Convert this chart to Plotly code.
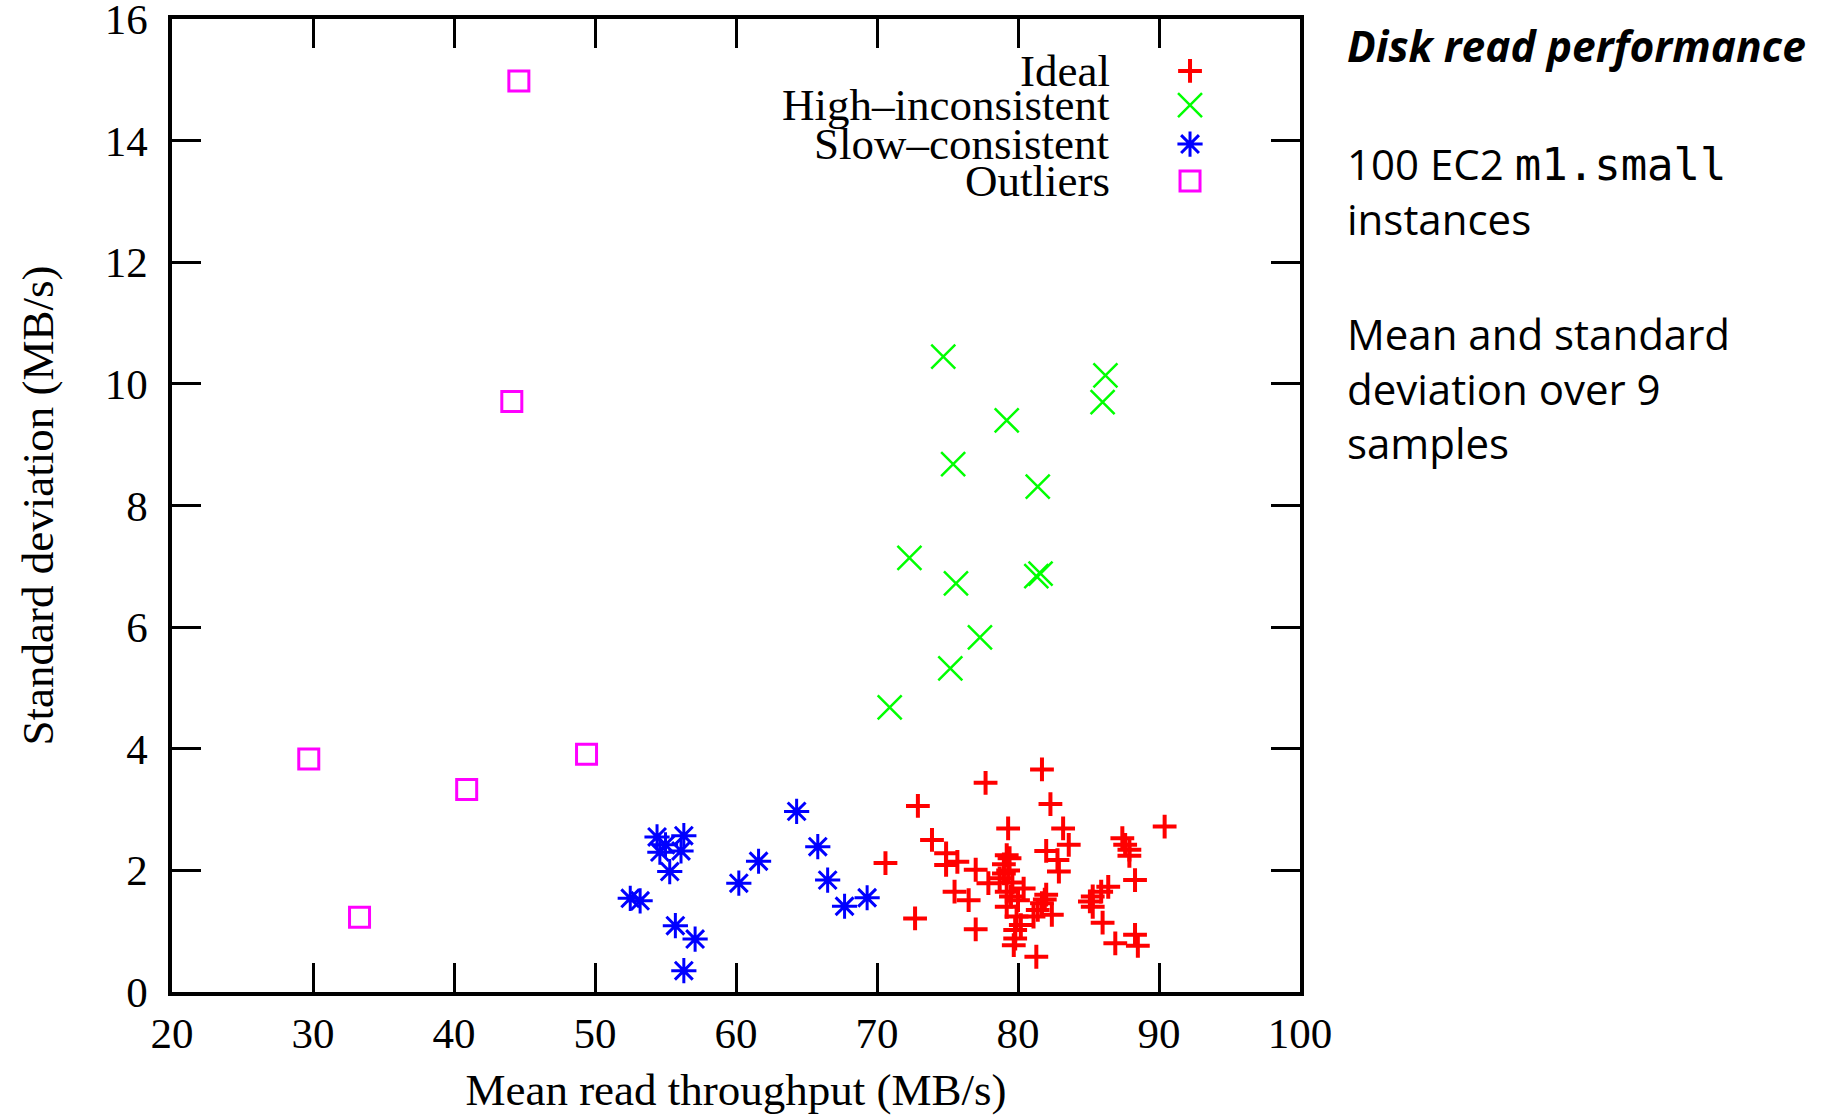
import plotly.graph_objects as go

# ---- data ----
ideal_x = [81.7, 77.7, 82.3, 72.9, 90.4, 79.3, 83.2, 73.9, 87.4, 83.6, 87.6, 82.0, 74.9, 79.2, 87.9,
           87.9, 70.6, 75.7, 74.9, 79.4, 79.0, 77.0, 82.8, 82.9, 78.7, 77.9, 88.3, 79.0, 75.5, 76.5,
           79.2, 79.5, 80.0, 79.2, 82.0, 81.7, 81.4, 82.4, 81.1, 79.9, 72.7, 86.4, 85.9, 85.3, 85.1,
           85.3, 86.0, 77.0, 79.8, 79.8, 79.7, 81.3, 86.9, 88.3, 88.5, 80.2, 79.6, 81.9, 80.4, 79.3]
ideal_y = [3.66, 3.44, 3.09, 3.06, 2.72, 2.69, 2.69, 2.50, 2.53, 2.42, 2.42, 2.32, 2.28, 2.25, 2.34,
           2.24, 2.12, 2.14, 2.09, 2.20, 2.10, 2.01, 2.17, 1.98, 1.87, 1.79, 1.84, 1.95, 1.65, 1.51,
           1.65, 1.57, 1.51, 1.40, 1.60, 1.46, 1.35, 1.27, 1.24, 1.24, 1.21, 1.73, 1.65, 1.57, 1.49,
           1.40, 1.14, 1.03, 1.02, 0.88, 0.77, 0.58, 0.80, 0.94, 0.76, 1.10, 1.80, 1.52, 1.70, 2.00]

high_x = [74.7, 86.2, 86.0, 79.2, 75.4, 81.4, 72.3, 75.6, 81.3, 81.6, 77.3, 75.2, 70.9]
high_y = [10.45, 10.14, 9.70, 9.40, 8.68, 8.31, 7.14, 6.72, 6.84, 6.88, 5.83, 5.32, 4.68]

slow_x = [54.4, 56.3, 54.6, 56.1, 55.0, 55.3, 52.5, 53.2, 55.7, 57.1, 56.3, 60.2, 61.6, 64.3, 65.8, 66.5, 67.7, 69.3]
slow_y = [2.55, 2.57, 2.30, 2.32, 2.42, 1.98, 1.54, 1.50, 1.09, 0.87, 0.35, 1.79, 2.15, 2.97, 2.39, 1.84, 1.41, 1.55]

out_x = [44.6, 44.1, 29.7, 40.9, 49.4, 33.3]
out_y = [14.98, 9.71, 3.83, 3.33, 3.91, 1.23]

series_names = ["Ideal", "High–inconsistent", "Slow–consistent", "Outliers"]
x_ticks = [20, 30, 40, 50, 60, 70, 80, 90, 100]
y_ticks = [0, 2, 4, 6, 8, 10, 12, 14, 16]

# ---- styles ----
RED, GREEN, BLUE, MAGENTA = "#ff0000", "#00ff00", "#0000ff", "#ff00ff"
styles = [
    dict(symbol="cross-thin-open", size=17, line=dict(color=RED, width=4), color=RED),
    dict(symbol="x-thin-open", size=24, line=dict(color=GREEN, width=2.5), color=GREEN),
    dict(symbol="asterisk-open", size=21, line=dict(color=BLUE, width=3), color=BLUE),
    dict(symbol="square-open", size=20, line=dict(color=MAGENTA, width=3), color=MAGENTA),
]
data = [(ideal_x, ideal_y), (high_x, high_y), (slow_x, slow_y), (out_x, out_y)]

fig = go.Figure()
for (xs, ys), st, nm in zip(data, styles, series_names):
    fig.add_trace(go.Scatter(x=xs, y=ys, mode="markers", marker=st, name=nm,
                             showlegend=False, cliponaxis=False))

# ---- custom legend (text left, symbol right, like gnuplot) ----
leg_y = [0.9466, 0.9116, 0.8715, 0.8335]
for st, nm, ly in zip(styles, series_names, leg_y):
    fig.add_trace(go.Scatter(x=[0.9025], y=[ly], mode="markers", marker=st,
                             xaxis="x2", yaxis="y2", showlegend=False, hoverinfo="skip"))
    fig.add_annotation(x=0.833, y=ly, xref="paper", yref="paper", text=nm,
                       showarrow=False, xanchor="right", yanchor="middle",
                       font=dict(family="Liberation Serif", size=45, color="black"))

serif = "Liberation Serif"
fig.update_layout(
    width=1825, height=1115,
    margin=dict(l=172, r=525, t=19, b=123),
    paper_bgcolor="white", plot_bgcolor="white",
    font=dict(family=serif, size=40, color="black"),
    xaxis=dict(range=[20, 100], tickvals=x_ticks, ticktext=[str(v) for v in x_ticks],
               showgrid=False, zeroline=False, showline=True, linewidth=4, linecolor="black",
               mirror="ticks", ticks="inside", ticklen=29, tickwidth=3, tickcolor="black",
               tickfont=dict(family=serif, size=43), ticklabelstandoff=0,
               ticklabeloverflow="allow", automargin=False,
               title=dict(text="Mean read throughput (MB/s)", font=dict(family=serif, size=45),
                          standoff=30)),
    yaxis=dict(range=[0, 16], tickvals=y_ticks, ticktext=[str(v) for v in y_ticks],
               showgrid=False, zeroline=False, showline=True, linewidth=3.5, linecolor="black",
               mirror="ticks", ticks="inside", ticklen=29, tickwidth=3, tickcolor="black",
               tickfont=dict(family=serif, size=43), ticklabelstandoff=12,
               ticklabeloverflow="allow", automargin=False,
               title=dict(text="Standard deviation (MB/s)", font=dict(family=serif, size=45),
                          standoff=38)),
    xaxis2=dict(range=[0, 1], overlaying="x", visible=False, fixedrange=True),
    yaxis2=dict(range=[0, 1], overlaying="y", visible=False, fixedrange=True),
)

sans = "Open Sans"
fig.add_annotation(x=1.04, y=(992 - 45) / 973, xref="paper", yref="paper",
                   text="<b><i>Disk read performance</i></b>", showarrow=False,
                   xanchor="left", yanchor="middle", align="left",
                   font=dict(family=sans, size=42.5, color="black"))
fig.add_annotation(x=1.04, y=(992 - 133) / 973, xref="paper", yref="paper",
                   text="100 EC2 <span style=\"font-family:'DejaVu Sans Mono';font-size:44px\">m1.small</span><br>instances",
                   showarrow=False, xanchor="left", yanchor="top", align="left",
                   font=dict(family=sans, size=42, color="black"))
fig.add_annotation(x=1.04, y=(992 - 303) / 973, xref="paper", yref="paper",
                   text="Mean and standard<br>deviation over 9<br>samples",
                   showarrow=False, xanchor="left", yanchor="top", align="left",
                   font=dict(family=sans, size=42, color="black"))

fig.write_html("out.html")
